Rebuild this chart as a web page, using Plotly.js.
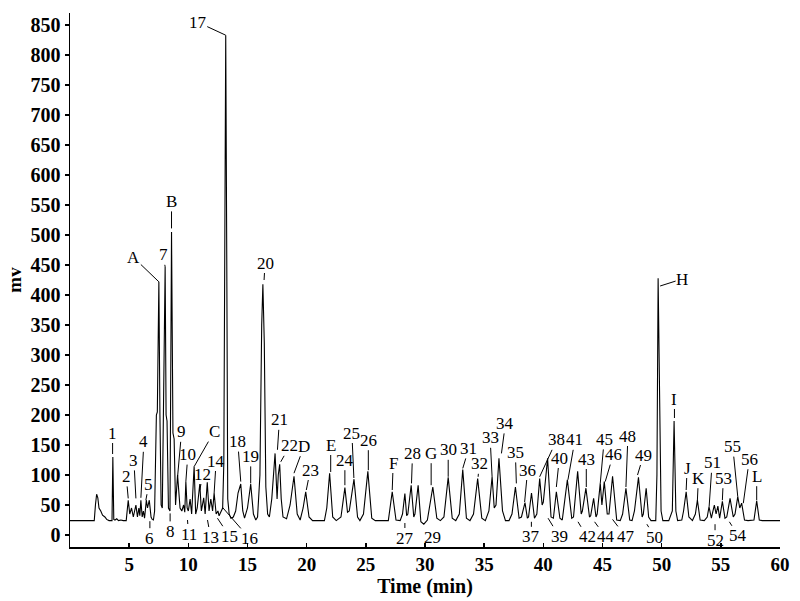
<!DOCTYPE html>
<html>
<head>
<meta charset="utf-8">
<script src="https://cdn.plot.ly/plotly-3.0.1.min.js"></script>
<style>
  html, body { margin: 0; padding: 0; background: #fff; }
  #chart { width: 800px; height: 601px; }
</style>
</head>
<body>
<div id="chart"></div>
<script>
// ---- Chromatogram signal (time in min, signal in mV) ----
const traceTime = [
  0.0, 2.05, 2.15, 2.25, 2.35, 2.45, 2.6, 2.75, 2.95, 3.1, 3.3, 3.55, 3.62, 3.7, 3.8, 3.95, 4.1, 4.3, 4.5, 4.75,
  4.92, 5.05, 5.2, 5.35, 5.57, 5.7, 5.82, 5.9, 5.99, 6.1, 6.2, 6.3, 6.45, 6.55, 6.7, 6.85, 6.95, 7.05, 7.15, 7.3,
  7.38, 7.51, 7.6, 7.7, 7.8, 7.95, 8.04, 8.12, 8.2, 8.32, 8.45, 8.58, 8.7, 8.8, 8.92, 9.09, 9.2, 9.3, 9.45, 9.6,
  9.7, 9.79, 9.9, 10.0, 10.15, 10.28, 10.49, 10.62, 10.75, 10.97, 11.1, 11.3, 11.42, 11.6, 11.75, 11.9, 12.05, 12.18, 12.35, 12.5,
  12.6, 12.75, 12.9, 13.0, 13.1, 13.16, 13.25, 13.33, 13.45, 13.6, 13.8, 14.0, 14.2, 14.43, 14.6, 14.75, 15.0, 15.27, 15.5, 15.7,
  15.85, 16.05, 16.2, 16.3, 16.42, 16.55, 16.7, 16.85, 17.05, 17.33, 17.5, 17.6, 17.72, 17.85, 18.0, 18.3, 18.6, 18.93, 19.2, 19.45,
  19.7, 19.92, 20.2, 20.5, 21.5, 21.7, 21.94, 22.2, 22.5, 22.9, 23.23, 23.45, 23.6, 24.0, 24.3, 24.5, 24.8, 25.17, 25.5, 25.8,
  26.9, 27.23, 27.55, 27.9, 28.1, 28.3, 28.45, 28.55, 28.83, 29.05, 29.15, 29.42, 29.65, 29.9, 30.2, 30.66, 31.0, 31.3, 31.6, 31.96,
  32.3, 32.6, 32.9, 33.19, 33.5, 33.8, 34.1, 34.45, 34.8, 35.1, 35.4, 35.67, 35.85, 36.0, 36.25, 36.55, 36.8, 37.1, 37.35, 37.64,
  37.95, 38.15, 38.45, 38.65, 38.75, 39.0, 39.25, 39.45, 39.69, 39.9, 40.0, 40.36, 40.65, 40.85, 41.1, 41.4, 41.6, 42.03, 42.4, 42.55,
  42.9, 43.2, 43.3, 43.6, 43.9, 44.0, 44.25, 44.45, 44.55, 44.81, 44.95, 45.15, 45.4, 45.55, 45.85, 46.2, 46.5, 46.7, 46.98, 47.3,
  47.5, 47.7, 48.04, 48.35, 48.45, 48.69, 48.9, 49.1, 49.5, 49.6, 49.7, 49.82, 49.95, 50.1, 50.6, 50.9, 51.05, 51.2, 51.35, 51.7,
  51.85, 52.07, 52.3, 52.6, 52.85, 53.02, 53.25, 53.6, 53.85, 54.0, 54.2, 54.45, 54.6, 54.75, 54.9, 55.13, 55.35, 55.5, 55.78, 56.05,
  56.2, 56.43, 56.6, 56.76, 57.0, 57.3, 57.8, 58.03, 58.25, 58.5, 60.0
];
const traceMV = [
  24, 24, 50, 68, 62, 45, 40, 33, 30, 26, 24, 24, 130, 26, 25, 27, 24, 25, 24, 24,
  58, 35, 45, 30, 50, 30, 45, 32, 58, 30, 40, 28, 58, 45, 58, 30, 26, 25, 40, 200,
  205, 422, 200, 50, 45, 320, 447, 200, 190, 45, 40, 505, 170, 160, 50, 100, 75, 45, 40, 50,
  38, 89, 45, 40, 60, 35, 114, 35, 45, 85, 40, 62, 35, 88, 40, 60, 40, 70, 35, 40,
  32, 40, 45, 120, 700, 833, 450, 60, 35, 28, 30, 40, 70, 85, 40, 28, 45, 85, 35, 25,
  30, 100, 350, 418, 320, 80, 35, 30, 60, 136, 60, 100, 118, 60, 30, 27, 50, 98, 35, 25,
  45, 72, 30, 24, 24, 45, 103, 30, 24, 30, 79, 38, 40, 93, 30, 24, 35, 106, 28, 24,
  24, 72, 25, 24, 35, 69, 32, 35, 83, 30, 35, 83, 22, 18, 25, 80, 28, 24, 30, 96,
  28, 24, 35, 109, 28, 24, 35, 94, 28, 24, 40, 97, 45, 50, 128, 40, 24, 24, 35, 80,
  28, 30, 54, 28, 30, 70, 28, 35, 94, 50, 55, 128, 30, 28, 72, 28, 25, 92, 28, 30,
  106, 35, 40, 78, 30, 32, 61, 30, 35, 86, 50, 89, 35, 35, 98, 25, 24, 35, 78, 25,
  24, 40, 96, 30, 35, 78, 30, 24, 24, 100, 428, 200, 40, 24, 24, 40, 190, 40, 24, 25,
  40, 72, 30, 24, 35, 58, 25, 24, 30, 47, 28, 50, 35, 48, 28, 56, 28, 30, 61, 30,
  35, 64, 45, 53, 25, 24, 25, 57, 25, 24, 24
];

// ---- Peak labels: text and the point (time, mV) each leader line touches ----
const labelText = ["1","2","3","4","5","6","A","7","B","8","9","10","11","C","12","13","14","15","16","17",
  "18","19","20","21","22","D","23","E","24","25","26","F","27","28","29","G","30","31","32","33",
  "34","35","36","37","38","39","40","41","42","43","44","45","46","47","48","49","50","H","I","J",
  "K","51","52","53","54","55","56","L"];
const labelTime = [3.60, 4.92, 5.57, 5.99, 6.41, 6.75, 7.51, 8.04, 8.58, 8.46, 9.09, 9.79, 9.93, 10.49, 10.97, 11.62, 12.18, 12.46, 12.89, 13.16,
  14.43, 15.27, 16.40, 17.53, 17.81, 18.93, 19.97, 22.03, 23.23, 23.99, 25.21, 27.23, 28.30, 28.86, 29.43, 30.52, 31.96, 33.19, 34.49, 35.67,
  36.46, 37.72, 38.42, 38.99, 39.69, 40.40, 41.10, 42.08, 42.93, 43.63, 44.33, 44.81, 45.23, 45.85, 46.98, 47.96, 48.75, 49.87, 51.08, 52.07,
  53.02, 54.01, 54.51, 55.13, 55.72, 56.43, 56.90, 58.03];
const labelMV = [135, 61, 61, 62, 58, 23, 422, 447, 511, 36, 97, 89, 25, 114, 75, 25, 70, 28, 46, 833,
  89, 86, 425, 142, 122, 103, 75, 105, 83, 95, 108, 75, 20, 86, 18, 83, 97, 111, 97, 97,
  136, 86, 55, 22, 97, 28, 80, 92, 22, 80, 22, 86, 89, 26, 80, 100, 18, 415, 195, 75,
  58, 47, 18, 58, 22, 64, 53, 58];

// ---- Label text offsets from the leader point (layout, pixels) ----
const labelOffsets = [[0,-21],[-2,-22],[-2,-38],[3,-56],[3,-16],[0,17],[-25,-24],[-2,-12],[0,-27],[0,18],
  [4,-45],[2,-27],[1,14],[20,-35],[3,-16],[3,17],[2,-32],[12,18],[27,31],[-28,-13],
  [-3,-40],[0,-27],[1,-17],[2,-30],[9,-16],[10,-27],[4,-20],[0,-27],[0,-25],[-2,-45],
  [0,-30],[1,-27],[0,15],[1,-30],[14,13],[0,-32],[0,-27],[6,-20],[1,-13],[-2,-39],
  [4,-30],[-1,-31],[3,-32],[0,15],[17,-37],[11,18],[3,-29],[7,-40],[9,15],[0,-28],
  [11,15],[4,-44],[8,-27],[13,17],[2,-51],[6,-20],[8,13],[22,-7],[0,-19],[1,-22],
  [1,-22],[3,-44],[0,16],[1,-22],[9,14],[-5,-50],[6,-44],[0,-24]];

const serif = "Liberation Serif, Times New Roman, serif";

const annotations = labelText.map((t, i) => ({
  x: labelTime[i], y: labelMV[i], xref: 'x', yref: 'y',
  text: t, showarrow: true, arrowhead: 0, arrowwidth: 1, arrowcolor: '#000',
  ax: labelOffsets[i][0], ay: labelOffsets[i][1], standoff: 0, startstandoff: 0,
  font: {family: serif, size: 17, color: '#000'}, borderpad: 0
}));

const data = [{
  x: traceTime, y: traceMV, type: 'scatter', mode: 'lines',
  line: {color: '#000', width: 1.1}, hoverinfo: 'skip'
}];

const layout = {
  width: 800, height: 601,
  margin: {l: 70, r: 20, t: 13, b: 54},
  paper_bgcolor: '#fff', plot_bgcolor: '#fff',
  showlegend: false,
  font: {family: serif, color: '#000'},
  xaxis: {
    range: [0, 60], tickvals: [5,10,15,20,25,30,35,40,45,50,55,60],
    ticks: 'inside', ticklen: 4, tickwidth: 1.5, tickcolor: '#000',
    showline: true, linecolor: '#000', linewidth: 1.5, showgrid: false, zeroline: false,
    tickfont: {family: serif, size: 19, color: '#000', weight: 'bold'},
    title: {text: '<b>Time (min)</b>', font: {family: serif, size: 20, color: '#000'}, standoff: 0}
  },
  yaxis: {
    range: [-20, 870], tickvals: [0,50,100,150,200,250,300,350,400,450,500,550,600,650,700,750,800,850],
    ticks: 'outside', ticklen: 4, tickwidth: 1.5, tickcolor: '#000',
    showline: true, linecolor: '#000', linewidth: 1.5, showgrid: false, zeroline: false,
    tickfont: {family: serif, size: 20, color: '#000', weight: 'bold'},
    title: {text: '<b>mv</b>', font: {family: serif, size: 19, color: '#000'}, standoff: 4}
  },
  annotations: annotations
};

Plotly.newPlot('chart', data, layout, {displayModeBar: false, staticPlot: true});
</script>
</body>
</html>
